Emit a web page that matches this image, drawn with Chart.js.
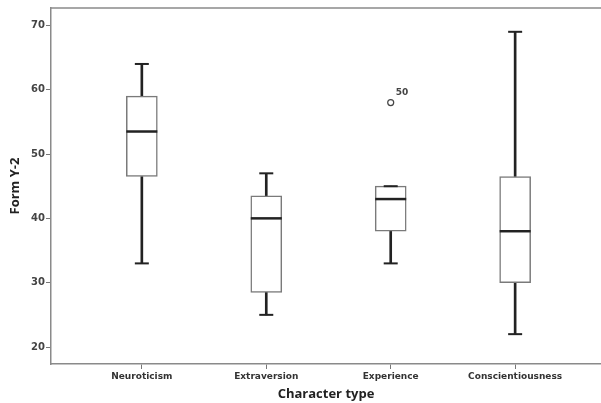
<!DOCTYPE html>
<html>
<head>
<meta charset="utf-8">
<script src="https://cdn.jsdelivr.net/npm/chart.js@4"></script>
<style>
  html, body { margin: 0; padding: 0; background: #fff; }
  #wrap { width: 601px; height: 403px; }
</style>
</head>
<body>
<div id="wrap"><canvas id="grafico"></canvas></div>
<script>
const categorias = ['Neuroticism', 'Extraversion', 'Experience', 'Conscientiousness'];
const bigodeMin = [33, 25, 33, 22];
const quartil1 = [46.5, 28.5, 38, 30];
const mediana = [53.5, 40, 43, 38];
const quartil3 = [59, 43.5, 45, 46.5];
const bigodeMax = [64, 47, 45, 69];
const outlierCategoria = ['Experience'];
const outlierValor = [58];
const outlierRotulo = ['50'];
const ticksY = [20, 30, 40, 50, 60, 70];

const posX = (nome) => categorias.indexOf(nome) + 1;

const caixas = categorias.map((c, i) => ({ x: i + 1, y: [quartil1[i], quartil3[i]] }));
const bigodeBaixo = categorias.map((c, i) => ({ x: i + 1, y: [bigodeMin[i], quartil1[i]] }));
const bigodeCima = categorias.map((c, i) => ({ x: i + 1, y: [quartil3[i], bigodeMax[i]] }));
const capas = [];
categorias.forEach((c, i) => {
  capas.push({ x: i + 1, y: bigodeMin[i] });
  capas.push({ x: i + 1, y: bigodeMax[i] });
});
const medianas = categorias.map((c, i) => ({ x: i + 1, y: mediana[i] }));
const outliers = outlierCategoria.map((c, i) => ({ x: posX(c), y: outlierValor[i] }));

// linha de cima da moldura + rotulo do outlier
const moldura = {
  id: 'moldura',
  afterDraw(chart) {
    const c = chart.ctx;
    const a = chart.chartArea;
    c.save();
    c.strokeStyle = '#8a8a8a';
    c.lineWidth = 1.5;
    c.beginPath();
    c.moveTo(a.left, a.top);
    c.lineTo(a.right, a.top);
    c.stroke();
    c.fillStyle = '#444';
    c.font = 'bold 9px "DejaVu Sans"';
    c.textBaseline = 'bottom';
    outliers.forEach((p, i) => {
      const x = chart.scales.x.getPixelForValue(p.x);
      const y = chart.scales.y.getPixelForValue(p.y);
      c.fillText(outlierRotulo[i], x + 5, y - 5);
    });
    c.restore();
  }
};

const ctx = document.getElementById('grafico').getContext('2d');
new Chart(ctx, {
  type: 'bar',
  data: {
    datasets: [
      {
        label: 'caixa',
        data: caixas,
        backgroundColor: '#ffffff',
        borderColor: '#7a7a7a',
        borderWidth: 1.5,
        borderSkipped: false,
        barThickness: 31,
        grouped: false,
        order: 2
      },
      {
        label: 'bigode baixo',
        data: bigodeBaixo,
        backgroundColor: '#222',
        borderWidth: 0,
        barThickness: 2,
        grouped: false,
        order: 3
      },
      {
        label: 'bigode cima',
        data: bigodeCima,
        backgroundColor: '#222',
        borderWidth: 0,
        barThickness: 2,
        grouped: false,
        order: 3
      },
      {
        type: 'scatter',
        label: 'capas',
        data: capas,
        pointStyle: 'line',
        radius: 7,
        borderWidth: 2,
        borderColor: '#222',
        order: 1
      },
      {
        type: 'scatter',
        label: 'mediana',
        data: medianas,
        pointStyle: 'line',
        radius: 15.5,
        borderWidth: 2.5,
        borderColor: '#222',
        order: 0
      },
      {
        type: 'scatter',
        label: 'outlier',
        data: outliers,
        pointStyle: 'circle',
        radius: 3,
        borderWidth: 1.2,
        borderColor: '#444',
        backgroundColor: '#fff',
        order: 0
      }
    ]
  },
  options: {
    responsive: true,
    maintainAspectRatio: false,
    animation: false,
    layout: { padding: { top: 8, left: 0, right: 0, bottom: 0 }, autoPadding: false },
    plugins: {
      legend: { display: false },
      tooltip: { enabled: false }
    },
    scales: {
      x: {
        type: 'linear',
        min: 0.27,
        max: 4.69,
        offset: false,
        afterBuildTicks: (s) => { s.ticks = categorias.map((c, i) => ({ value: i + 1 })); },
        afterFit: (s) => { s.height = 39; s.paddingLeft = 0; s.paddingRight = 0; },
        grid: { offset: false, drawOnChartArea: false, tickLength: 5, color: '#777', lineWidth: 1 },
        border: { color: '#8a8a8a', width: 1.5 },
        ticks: {
          padding: 2,
          color: '#333',
          font: { family: 'DejaVu Sans', size: 9, weight: 'bold' },
          maxRotation: 0,
          autoSkip: false,
          callback: (v) => categorias[v - 1]
        },
        title: {
          display: true,
          text: 'Character type',
          color: '#222',
          font: { family: 'Open Sans', size: 13, weight: 'bold' },
          padding: { top: 0, bottom: 1 }
        }
      },
      y: {
        min: 17.36,
        max: 72.7,
        afterBuildTicks: (s) => { s.ticks = ticksY.map((v) => ({ value: v })); },
        afterFit: (s) => { s.width = 51; s.paddingTop = 0; s.paddingBottom = 0; },
        grid: { drawOnChartArea: false, tickLength: 5, color: '#777', lineWidth: 1 },
        border: { color: '#8a8a8a', width: 1.5 },
        ticks: {
          padding: 1,
          color: '#444',
          font: { family: 'DejaVu Sans', size: 10, weight: 'bold' }
        },
        title: {
          display: true,
          text: 'Form Y-2',
          color: '#222',
          font: { family: 'Open Sans', size: 13, weight: 'bold' },
          padding: { top: 7, bottom: 0 }
        }
      }
    }
  },
  plugins: [moldura]
});
</script>
</body>
</html>
